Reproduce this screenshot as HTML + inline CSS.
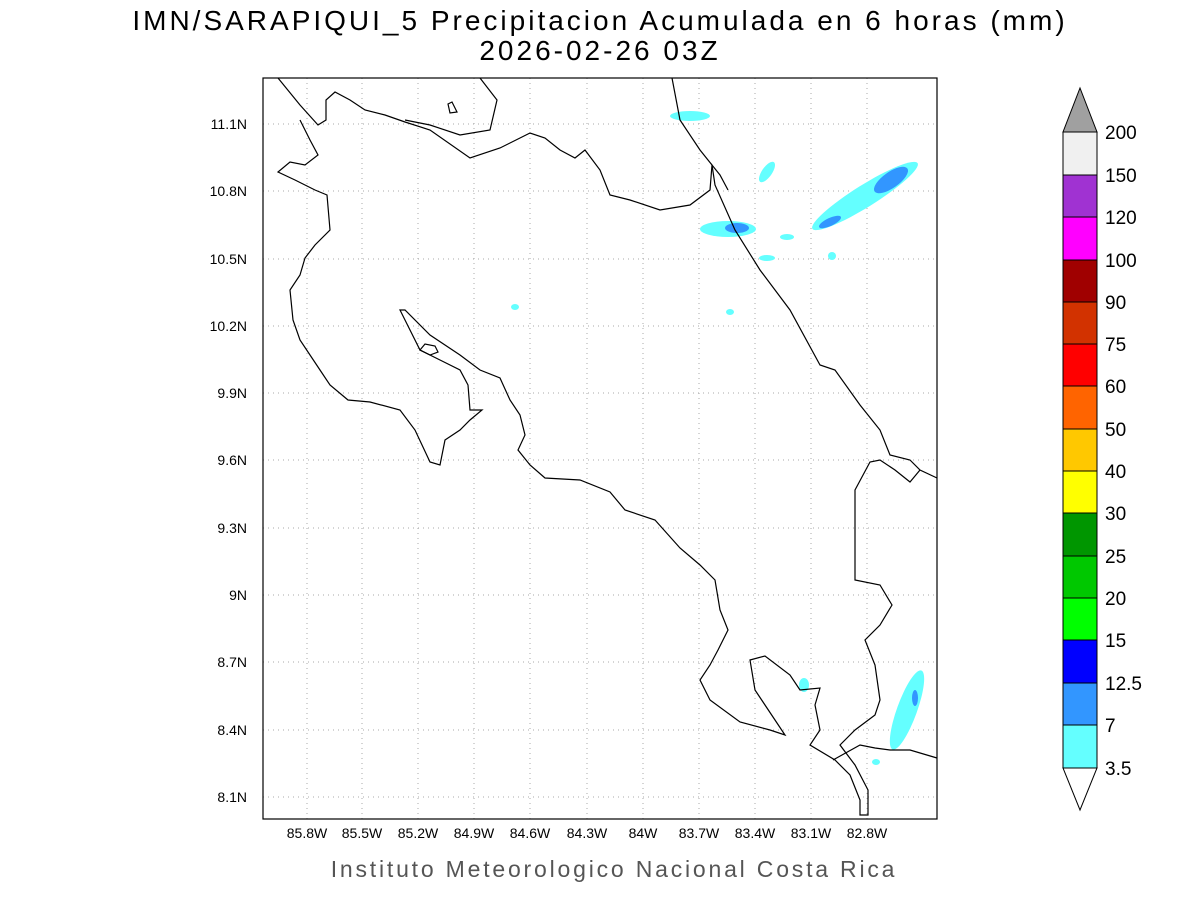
<!DOCTYPE html>
<html><head><meta charset="utf-8"><style>
body{margin:0;background:#fff;}
svg{display:block;font-family:"Liberation Sans",sans-serif;}
</style></head><body>
<svg width="1200" height="900" viewBox="0 0 1200 900">
<rect width="1200" height="900" fill="#fff"/>
<text x="600" y="30" font-size="28" text-anchor="middle" fill="#000" letter-spacing="3">IMN/SARAPIQUI_5 Precipitacion Acumulada en 6 horas (mm)</text>
<text x="600" y="60" font-size="28" text-anchor="middle" fill="#000" letter-spacing="3">2026-02-26 03Z</text>
<g stroke="#aaa" stroke-width="1" stroke-dasharray="1,4">
<line x1="307" y1="78" x2="307" y2="819"/><line x1="362" y1="78" x2="362" y2="819"/><line x1="418" y1="78" x2="418" y2="819"/><line x1="474" y1="78" x2="474" y2="819"/><line x1="530" y1="78" x2="530" y2="819"/><line x1="587" y1="78" x2="587" y2="819"/><line x1="643" y1="78" x2="643" y2="819"/><line x1="699" y1="78" x2="699" y2="819"/><line x1="755" y1="78" x2="755" y2="819"/><line x1="811" y1="78" x2="811" y2="819"/><line x1="867" y1="78" x2="867" y2="819"/>
<line x1="263" y1="124" x2="937" y2="124"/><line x1="263" y1="191" x2="937" y2="191"/><line x1="263" y1="259" x2="937" y2="259"/><line x1="263" y1="326" x2="937" y2="326"/><line x1="263" y1="393" x2="937" y2="393"/><line x1="263" y1="460" x2="937" y2="460"/><line x1="263" y1="528" x2="937" y2="528"/><line x1="263" y1="595" x2="937" y2="595"/><line x1="263" y1="662" x2="937" y2="662"/><line x1="263" y1="730" x2="937" y2="730"/><line x1="263" y1="797" x2="937" y2="797"/>
</g>
<g fill="#64ffff">
<ellipse cx="690" cy="116" rx="20" ry="5"/>
<ellipse cx="767" cy="172" rx="5" ry="12" transform="rotate(35 767 172)"/>
<ellipse cx="728" cy="229" rx="28" ry="8"/>
<ellipse cx="865" cy="196" rx="62" ry="11" transform="rotate(-32 865 196)"/>
<ellipse cx="767" cy="258" rx="8" ry="3"/><ellipse cx="787" cy="237" rx="7" ry="3"/>
<ellipse cx="832" cy="256" rx="4" ry="4"/><ellipse cx="515" cy="307" rx="4" ry="3"/><ellipse cx="730" cy="312" rx="4" ry="3"/>
<ellipse cx="907" cy="710" rx="10" ry="42" transform="rotate(20 907 710)"/>
<ellipse cx="804" cy="685" rx="5" ry="7"/><ellipse cx="876" cy="762" rx="4" ry="3"/>
</g>
<g fill="#3296ff">
<ellipse cx="737" cy="228" rx="12" ry="5"/>
<ellipse cx="891" cy="180" rx="20" ry="8" transform="rotate(-35 891 180)"/>
<ellipse cx="830" cy="222" rx="12" ry="4" transform="rotate(-25 830 222)"/>
<ellipse cx="915" cy="698" rx="3" ry="8"/>
</g>
<g fill="none" stroke="#000" stroke-width="1.2">
<polyline points="278,78 300,105 318,125 326,120 326,100 335,92 350,100 365,110 385,115 405,122 430,130 470,158 500,148 530,133 545,138 560,150 575,158 585,150 600,170 610,195 630,200 660,210 690,205 710,190 712,165 720,175 728,190"/>
<polyline points="480,78 497,100 490,130 460,135 430,125 405,120"/>
<polygon points="448,104 452,102 457,112 450,113"/>
<polyline points="672,78 680,120 700,150 712,165 715,185 735,230 760,270 790,310 820,365 835,370 860,405 880,430 890,455 910,460 920,470 937,478"/>
<polyline points="300,120 310,140 318,155 305,165 290,162 278,172 295,180 315,190 327,195 330,230 315,245 305,258 300,275 290,290 293,320 300,340 320,370 330,385 348,400 370,402 400,410 415,430 430,462 440,465 445,440 460,430 470,420 482,410 470,410 468,385 460,370 440,360 420,350 410,330 400,310 405,310 430,335 460,355 480,370 500,378 510,400 520,415 525,435 518,450 530,465 545,478 580,480 610,492 625,510 655,520 680,548 700,565 715,580 720,610 728,630 718,650 710,665 700,680 710,700 740,722 770,730 785,735 775,720 755,690 750,660 765,656 790,675 800,690 820,688 815,705 820,730 810,745 835,760 850,775 860,800 860,815 868,815 868,790 855,765 840,745 855,730 875,715 880,700 875,665 865,640 880,625 892,605 880,585 855,580 855,490 870,462 880,460 895,470 910,482 920,470"/>
<polygon points="420,350 425,344 435,346 438,352 430,355"/>
<polyline points="833,760 860,745 875,748 890,750 910,750 937,758"/>
</g>
<rect x="263" y="78" width="674" height="741" fill="none" stroke="#000" stroke-width="1.2"/>
<g font-size="14" fill="#000" text-anchor="middle">
<text x="307" y="838">85.8W</text><text x="362" y="838">85.5W</text><text x="418" y="838">85.2W</text><text x="474" y="838">84.9W</text><text x="530" y="838">84.6W</text><text x="587" y="838">84.3W</text><text x="643" y="838">84W</text><text x="699" y="838">83.7W</text><text x="755" y="838">83.4W</text><text x="811" y="838">83.1W</text><text x="867" y="838">82.8W</text>
</g>
<g font-size="14" fill="#000" text-anchor="end">
<text x="247" y="129">11.1N</text><text x="247" y="196">10.8N</text><text x="247" y="264">10.5N</text><text x="247" y="331">10.2N</text><text x="247" y="398">9.9N</text><text x="247" y="465">9.6N</text><text x="247" y="533">9.3N</text><text x="247" y="600">9N</text><text x="247" y="667">8.7N</text><text x="247" y="735">8.4N</text><text x="247" y="802">8.1N</text>
</g>
<text x="614" y="877" font-size="23" text-anchor="middle" fill="#555" letter-spacing="2.8">Instituto Meteorologico Nacional Costa Rica</text>
<g stroke="#000" stroke-width="1">
<polygon points="1063,132 1097,132 1080,88" fill="#a0a0a0"/>
<rect x="1063" y="132" width="34" height="43" fill="#f0f0f0"/>
<rect x="1063" y="175" width="34" height="42" fill="#a032d2"/>
<rect x="1063" y="217" width="34" height="43" fill="#ff00ff"/>
<rect x="1063" y="260" width="34" height="42" fill="#a00000"/>
<rect x="1063" y="302" width="34" height="42" fill="#d23200"/>
<rect x="1063" y="344" width="34" height="42" fill="#ff0000"/>
<rect x="1063" y="386" width="34" height="43" fill="#ff6400"/>
<rect x="1063" y="429" width="34" height="42" fill="#ffc800"/>
<rect x="1063" y="471" width="34" height="42" fill="#ffff00"/>
<rect x="1063" y="513" width="34" height="43" fill="#009600"/>
<rect x="1063" y="556" width="34" height="42" fill="#00c800"/>
<rect x="1063" y="598" width="34" height="42" fill="#00ff00"/>
<rect x="1063" y="640" width="34" height="43" fill="#0000ff"/>
<rect x="1063" y="683" width="34" height="42" fill="#3296ff"/>
<rect x="1063" y="725" width="34" height="43" fill="#64ffff"/>
<polygon points="1063,768 1097,768 1080,810" fill="#fff"/>
</g>
<g font-size="19" fill="#000">
<text x="1105" y="139">200</text><text x="1105" y="182">150</text><text x="1105" y="224">120</text><text x="1105" y="267">100</text><text x="1105" y="309">90</text><text x="1105" y="351">75</text><text x="1105" y="393">60</text><text x="1105" y="436">50</text><text x="1105" y="478">40</text><text x="1105" y="520">30</text><text x="1105" y="563">25</text><text x="1105" y="605">20</text><text x="1105" y="647">15</text><text x="1105" y="690">12.5</text><text x="1105" y="732">7</text><text x="1105" y="775">3.5</text>
</g>
</svg>
</body></html>
